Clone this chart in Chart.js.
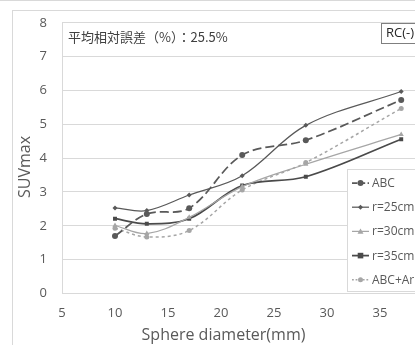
<!DOCTYPE html>
<html>
<head>
<meta charset="utf-8">
<script src="https://cdn.jsdelivr.net/npm/chart.js@4/dist/chart.umd.min.js"></script>
<style>
  html, body { margin: 0; padding: 0; background: #fff; overflow: hidden; }
  #wrap { width: 480px; height: 345px; }
</style>
</head>
<body>
<div id="wrap"><canvas id="grafica" width="480" height="345"></canvas></div>
<script>
// datos
const diametros = [10, 13, 17, 22, 28, 37];
const abc    = [1.70, 2.35, 2.52, 4.09, 4.53, 5.72];
const r25    = [2.53, 2.45, 2.91, 3.48, 4.97, 5.97];
const r30    = [2.01, 1.77, 2.25, 3.16, 3.82, 4.70];
const r35    = [2.21, 2.06, 2.21, 3.19, 3.45, 4.56];
const abcArr = [1.93, 1.67, 1.86, 3.06, 3.87, 5.47];
const etiquetas = ["ABC", "r=25cm", "r=30cm", "r=35cm", "ABC+Arr"];
const anotacion = "平均相対誤差（%）：25.5%";
const caja = "RC(-)";

const OSCURO = "#595959";
const CLARO = "#a6a6a6";
const fuente = "'Open Sans', 'Noto Sans', sans-serif";

const pares = ys => diametros.map((x, i) => ({ x: x, y: ys[i] }));

const series = [
  { data: abc,    color: OSCURO,  width: 1.75, dash: [9, 4], punto: "circle",  radio: 3 },
  { data: r25,    color: OSCURO,  width: 1.25, dash: [],     punto: "rectRot", radio: 2.5 },
  { data: r30,    color: CLARO,   width: 1.25, dash: [],     punto: "triangle", radio: 3 },
  { data: r35,    color: "#4a4a4a", width: 1.75, dash: [],   punto: "rect",    radio: 2.8 },
  { data: abcArr, color: CLARO,   width: 1.5,  dash: [3, 3], punto: "circle",  radio: 2.5 }
];

function marcador(ctx, tipo, x, y, r, color) {
  ctx.save();
  ctx.fillStyle = color;
  ctx.strokeStyle = color;
  ctx.setLineDash([]);
  ctx.beginPath();
  if (tipo === "circle") {
    ctx.arc(x, y, r, 0, Math.PI * 2);
  } else if (tipo === "rect") {
    ctx.rect(x - r, y - r, r * 2, r * 2);
  } else if (tipo === "rectRot") {
    ctx.moveTo(x, y - r); ctx.lineTo(x + r, y); ctx.lineTo(x, y + r); ctx.lineTo(x - r, y);
    ctx.closePath();
  } else {
    ctx.moveTo(x, y - r); ctx.lineTo(x + r, y + r * 0.8); ctx.lineTo(x - r, y + r * 0.8);
    ctx.closePath();
  }
  ctx.fill();
  ctx.restore();
}

const extras = {
  id: "extras",
  beforeDraw(chart) {
    const ctx = chart.ctx;
    ctx.save();
    ctx.strokeStyle = "#d9d9d9";
    ctx.lineWidth = 1;
    ctx.beginPath();
    ctx.moveTo(0, 0.5); ctx.lineTo(chart.width, 0.5);
    ctx.stroke();
    ctx.strokeRect(12.5, 10.5, chart.width, chart.height);
    ctx.restore();
  },
  afterDraw(chart) {
    const ctx = chart.ctx;
    ctx.save();

    // anotacion
    ctx.fillStyle = "#404040";
    ctx.font = "13px 'Noto Sans CJK JP', " + fuente;
    ctx.textBaseline = "middle";
    ctx.textAlign = "left";
    ctx.fillText(anotacion, 68, 37);

    // caja RC
    ctx.fillStyle = "#fff";
    ctx.fillRect(381.5, 23.5, 80, 20);
    ctx.strokeStyle = "#7f7f7f";
    ctx.lineWidth = 1;
    ctx.strokeRect(381.5, 23.5, 80, 20);
    ctx.fillStyle = "#262626";
    ctx.font = "13px " + fuente;
    ctx.fillText(caja, 386, 33.5);

    // titulos de ejes
    ctx.fillStyle = "#595959";
    ctx.font = "16px " + fuente;
    ctx.textAlign = "center";
    ctx.fillText("Sphere diameter(mm)", 223.5, 335);
    ctx.save();
    ctx.translate(25, 167);
    ctx.rotate(-Math.PI / 2);
    ctx.fillText("SUVmax", 0, 0);
    ctx.restore();

    // leyenda
    ctx.fillStyle = "#fff";
    ctx.fillRect(347.5, 169.5, 130, 122);
    ctx.strokeStyle = "#d9d9d9";
    ctx.strokeRect(347.5, 169.5, 130, 122);
    ctx.font = "12px " + fuente;
    ctx.textAlign = "left";
    series.forEach((s, i) => {
      const y = 183 + i * 24.2;
      ctx.save();
      ctx.strokeStyle = s.color;
      ctx.lineWidth = s.width;
      ctx.setLineDash(s.dash.length ? [s.dash[0] * 0.6, s.dash[1] * 0.6] : []);
      ctx.beginPath();
      ctx.moveTo(352, y); ctx.lineTo(369, y);
      ctx.stroke();
      ctx.restore();
      marcador(ctx, s.punto, 360.5, y, s.radio, s.color);
      ctx.fillStyle = "#595959";
      ctx.fillText(etiquetas[i], 372, y + 0.5);
    });
    ctx.restore();
  }
};

new Chart(document.getElementById("grafica"), {
  type: "line",
  data: {
    datasets: series.map((s, i) => ({
      label: etiquetas[i],
      data: pares(s.data),
      borderColor: s.color,
      backgroundColor: s.color,
      borderWidth: s.width,
      borderDash: s.dash,
      pointStyle: s.punto,
      pointRadius: s.radio,
      pointHoverRadius: s.radio,
      pointBorderWidth: 0,
      tension: 0.35,
      fill: false
    }))
  },
  options: {
    responsive: false,
    devicePixelRatio: 1,
    animation: false,
    layout: { padding: { left: 12, top: 21, right: 47, bottom: 0 } },
    plugins: {
      legend: { display: false },
      tooltip: { enabled: false }
    },
    scales: {
      x: {
        type: "linear",
        min: 5,
        max: 40,
        afterFit: sc => { sc.height = 51.5; },
        ticks: { stepSize: 5, padding: 12, color: "#595959", font: { family: fuente, size: 13 } },
        grid: { display: false, drawTicks: false },
        border: { display: true, color: "#d9d9d9" }
      },
      y: {
        min: 0,
        max: 8,
        afterFit: sc => { sc.width = 50; },
        ticks: { stepSize: 1, padding: 15, color: "#595959", font: { family: fuente, size: 13 } },
        grid: { color: "#d9d9d9", drawTicks: false },
        border: { display: true, color: "#d9d9d9" }
      }
    }
  },
  plugins: [extras]
});
</script>
</body>
</html>
